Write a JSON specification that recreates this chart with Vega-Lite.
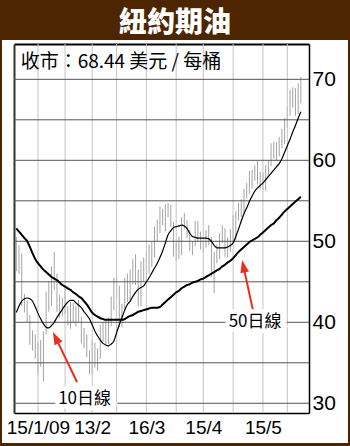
{
  "$schema": "https://vega.github.io/schema/vega-lite/v6.json",
  "width": 346,
  "height": 403,
  "autosize": "none",
  "padding": {"left": 2, "right": 2, "top": 40, "bottom": 3},
  "background": "#4d2500",
  "title": {"text": "紐約期油", "anchor": "middle", "frame": "group", "color": "white", "fontSize": 28, "font": "Noto Sans CJK TC", "fontWeight": 900, "offset": 2},
  "config": {
    "view": {"fill": "white", "stroke": null},
    "axis": {"labelFont": "Liberation Sans", "labelColor": "black", "domainColor": "black", "ticks": false}
  },
  "datasets": {
    "oil": [
      {"d":"2009-01-05","lo":46.3,"hi":50.5,"m10":41.2,"m50":51.6},
      {"d":"2009-01-06","lo":46.0,"hi":49.5,"m10":42.0,"m50":51.2},
      {"d":"2009-01-07","lo":42.0,"hi":48.5,"m10":42.6,"m50":50.8},
      {"d":"2009-01-08","lo":41.2,"hi":43.5,"m10":42.9,"m50":50.4},
      {"d":"2009-01-09","lo":40.0,"hi":42.7,"m10":43.0,"m50":50.0},
      {"d":"2009-01-12","lo":37.2,"hi":40.9,"m10":42.9,"m50":49.3},
      {"d":"2009-01-13","lo":36.5,"hi":39.0,"m10":42.6,"m50":48.5},
      {"d":"2009-01-14","lo":35.5,"hi":38.5,"m10":41.9,"m50":47.8},
      {"d":"2009-01-15","lo":33.5,"hi":37.5,"m10":41.1,"m50":47.3},
      {"d":"2009-01-16","lo":34.5,"hi":37.8,"m10":40.4,"m50":46.9},
      {"d":"2009-01-20","lo":32.7,"hi":38.9,"m10":39.8,"m50":46.5},
      {"d":"2009-01-21","lo":38.5,"hi":43.8,"m10":39.4,"m50":46.2},
      {"d":"2009-01-22","lo":41.3,"hi":45.0,"m10":39.3,"m50":45.9},
      {"d":"2009-01-23","lo":42.0,"hi":46.9,"m10":39.6,"m50":45.6},
      {"d":"2009-01-26","lo":44.0,"hi":48.7,"m10":40.0,"m50":45.4},
      {"d":"2009-01-27","lo":41.3,"hi":46.0,"m10":40.6,"m50":45.2},
      {"d":"2009-01-28","lo":40.5,"hi":43.4,"m10":41.1,"m50":44.9},
      {"d":"2009-01-29","lo":40.8,"hi":43.0,"m10":41.6,"m50":44.6},
      {"d":"2009-01-30","lo":41.0,"hi":44.4,"m10":42.1,"m50":44.4},
      {"d":"2009-02-02","lo":39.6,"hi":42.0,"m10":42.5,"m50":44.2},
      {"d":"2009-02-03","lo":39.2,"hi":42.5,"m10":42.7,"m50":44.0},
      {"d":"2009-02-04","lo":39.9,"hi":42.4,"m10":42.7,"m50":43.7},
      {"d":"2009-02-05","lo":39.5,"hi":42.0,"m10":42.4,"m50":43.5},
      {"d":"2009-02-06","lo":40.0,"hi":42.8,"m10":42.1,"m50":43.2},
      {"d":"2009-02-09","lo":37.4,"hi":40.7,"m10":41.8,"m50":43.0},
      {"d":"2009-02-10","lo":36.8,"hi":39.3,"m10":41.3,"m50":42.6},
      {"d":"2009-02-11","lo":35.7,"hi":38.5,"m10":40.9,"m50":42.2},
      {"d":"2009-02-12","lo":33.6,"hi":36.5,"m10":40.4,"m50":41.7},
      {"d":"2009-02-13","lo":33.5,"hi":37.8,"m10":39.7,"m50":41.2},
      {"d":"2009-02-17","lo":34.4,"hi":37.5,"m10":38.9,"m50":40.9},
      {"d":"2009-02-18","lo":34.0,"hi":36.8,"m10":38.3,"m50":40.7},
      {"d":"2009-02-19","lo":35.5,"hi":39.7,"m10":37.8,"m50":40.5},
      {"d":"2009-02-20","lo":37.6,"hi":40.0,"m10":37.4,"m50":40.4},
      {"d":"2009-02-23","lo":37.3,"hi":40.3,"m10":37.2,"m50":40.3},
      {"d":"2009-02-24","lo":37.3,"hi":40.6,"m10":37.1,"m50":40.3},
      {"d":"2009-02-25","lo":39.5,"hi":43.2,"m10":37.3,"m50":40.3},
      {"d":"2009-02-26","lo":41.5,"hi":45.5,"m10":37.7,"m50":40.3},
      {"d":"2009-02-27","lo":43.0,"hi":45.5,"m10":38.7,"m50":40.3},
      {"d":"2009-03-02","lo":39.4,"hi":44.5,"m10":39.7,"m50":40.3},
      {"d":"2009-03-03","lo":39.4,"hi":42.3,"m10":40.6,"m50":40.3},
      {"d":"2009-03-04","lo":41.4,"hi":45.5,"m10":41.5,"m50":40.4},
      {"d":"2009-03-05","lo":42.5,"hi":46.0,"m10":42.2,"m50":40.6},
      {"d":"2009-03-06","lo":42.5,"hi":46.5,"m10":42.6,"m50":40.8},
      {"d":"2009-03-09","lo":44.7,"hi":47.8,"m10":43.2,"m50":40.9},
      {"d":"2009-03-10","lo":44.6,"hi":48.4,"m10":43.7,"m50":41.1},
      {"d":"2009-03-11","lo":42.0,"hi":46.5,"m10":44.1,"m50":41.3},
      {"d":"2009-03-12","lo":42.0,"hi":47.5,"m10":44.3,"m50":41.4},
      {"d":"2009-03-13","lo":45.0,"hi":48.0,"m10":44.5,"m50":41.5},
      {"d":"2009-03-16","lo":45.3,"hi":48.6,"m10":45.0,"m50":41.6},
      {"d":"2009-03-17","lo":46.0,"hi":49.6,"m10":45.5,"m50":41.7},
      {"d":"2009-03-18","lo":46.8,"hi":50.0,"m10":46.1,"m50":41.8},
      {"d":"2009-03-19","lo":48.0,"hi":51.8,"m10":46.7,"m50":41.8},
      {"d":"2009-03-20","lo":50.0,"hi":52.7,"m10":47.3,"m50":41.8},
      {"d":"2009-03-23","lo":51.0,"hi":54.3,"m10":48.0,"m50":41.9},
      {"d":"2009-03-24","lo":52.0,"hi":54.0,"m10":48.8,"m50":42.2},
      {"d":"2009-03-25","lo":51.2,"hi":54.6,"m10":49.8,"m50":42.5},
      {"d":"2009-03-26","lo":53.0,"hi":54.7,"m10":50.8,"m50":42.8},
      {"d":"2009-03-27","lo":51.8,"hi":54.5,"m10":51.3,"m50":43.1},
      {"d":"2009-03-30","lo":48.1,"hi":52.4,"m10":51.7,"m50":43.4},
      {"d":"2009-03-31","lo":47.7,"hi":49.9,"m10":51.8,"m50":43.7},
      {"d":"2009-04-01","lo":47.8,"hi":50.6,"m10":51.9,"m50":43.9},
      {"d":"2009-04-02","lo":48.3,"hi":53.0,"m10":52.0,"m50":44.2},
      {"d":"2009-04-03","lo":51.5,"hi":53.5,"m10":51.9,"m50":44.4},
      {"d":"2009-04-06","lo":50.4,"hi":52.6,"m10":51.6,"m50":44.6},
      {"d":"2009-04-07","lo":48.8,"hi":51.4,"m10":51.0,"m50":44.7},
      {"d":"2009-04-08","lo":48.3,"hi":50.0,"m10":50.6,"m50":44.9},
      {"d":"2009-04-09","lo":49.4,"hi":52.5,"m10":50.5,"m50":45.0},
      {"d":"2009-04-13","lo":50.0,"hi":52.5,"m10":50.4,"m50":45.1},
      {"d":"2009-04-14","lo":49.0,"hi":51.2,"m10":50.4,"m50":45.3},
      {"d":"2009-04-15","lo":48.6,"hi":50.2,"m10":50.4,"m50":45.4},
      {"d":"2009-04-16","lo":49.2,"hi":51.4,"m10":50.4,"m50":45.6},
      {"d":"2009-04-17","lo":49.5,"hi":52.0,"m10":50.3,"m50":45.8},
      {"d":"2009-04-20","lo":45.6,"hi":50.5,"m10":50.0,"m50":46.0},
      {"d":"2009-04-21","lo":43.6,"hi":48.7,"m10":49.5,"m50":46.2},
      {"d":"2009-04-22","lo":47.3,"hi":49.6,"m10":49.2,"m50":46.4},
      {"d":"2009-04-23","lo":47.8,"hi":51.0,"m10":49.2,"m50":46.6},
      {"d":"2009-04-24","lo":49.8,"hi":52.0,"m10":49.2,"m50":46.9},
      {"d":"2009-04-27","lo":48.1,"hi":51.6,"m10":49.2,"m50":47.1},
      {"d":"2009-04-28","lo":48.0,"hi":50.5,"m10":49.3,"m50":47.4},
      {"d":"2009-04-29","lo":48.7,"hi":51.5,"m10":49.5,"m50":47.6},
      {"d":"2009-04-30","lo":50.0,"hi":53.2,"m10":49.8,"m50":47.9},
      {"d":"2009-05-01","lo":50.1,"hi":53.7,"m10":50.6,"m50":48.3},
      {"d":"2009-05-04","lo":52.6,"hi":54.7,"m10":51.5,"m50":48.7},
      {"d":"2009-05-05","lo":53.0,"hi":55.2,"m10":52.5,"m50":49.0},
      {"d":"2009-05-06","lo":53.5,"hi":56.5,"m10":53.4,"m50":49.3},
      {"d":"2009-05-07","lo":55.3,"hi":57.2,"m10":54.1,"m50":49.6},
      {"d":"2009-05-08","lo":55.8,"hi":58.7,"m10":54.9,"m50":49.9},
      {"d":"2009-05-11","lo":56.5,"hi":58.8,"m10":55.6,"m50":50.1},
      {"d":"2009-05-12","lo":57.5,"hi":59.4,"m10":56.2,"m50":50.3},
      {"d":"2009-05-13","lo":57.0,"hi":60.0,"m10":56.6,"m50":50.5},
      {"d":"2009-05-14","lo":56.5,"hi":58.6,"m10":56.9,"m50":50.8},
      {"d":"2009-05-15","lo":56.3,"hi":58.5,"m10":57.2,"m50":51.1},
      {"d":"2009-05-18","lo":56.2,"hi":59.4,"m10":57.6,"m50":51.4},
      {"d":"2009-05-19","lo":58.0,"hi":60.0,"m10":58.0,"m50":51.7},
      {"d":"2009-05-20","lo":59.3,"hi":62.1,"m10":58.4,"m50":52.0},
      {"d":"2009-05-21","lo":60.2,"hi":62.3,"m10":58.8,"m50":52.2},
      {"d":"2009-05-22","lo":60.0,"hi":62.2,"m10":59.2,"m50":52.6},
      {"d":"2009-05-26","lo":60.5,"hi":62.9,"m10":59.6,"m50":52.9},
      {"d":"2009-05-27","lo":61.5,"hi":63.9,"m10":60.2,"m50":53.3},
      {"d":"2009-05-28","lo":62.0,"hi":65.2,"m10":61.0,"m50":53.7},
      {"d":"2009-05-29","lo":64.0,"hi":66.6,"m10":61.8,"m50":54.0},
      {"d":"2009-06-01","lo":65.5,"hi":68.7,"m10":62.6,"m50":54.3},
      {"d":"2009-06-02","lo":66.5,"hi":69.0,"m10":63.5,"m50":54.6},
      {"d":"2009-06-03","lo":65.5,"hi":68.9,"m10":64.3,"m50":54.9},
      {"d":"2009-06-04","lo":65.7,"hi":69.5,"m10":65.2,"m50":55.2},
      {"d":"2009-06-05","lo":67.0,"hi":70.3,"m10":66.0,"m50":55.5}
    ],
    "hgrid": [{"p": 30}, {"p": 35}, {"p": 40}, {"p": 45}, {"p": 50}, {"p": 55}, {"p": 60}, {"p": 65}, {"p": 70}],
    "vgrid": [{"s": 9}, {"s": 19}, {"s": 29}, {"s": 38}, {"s": 49}, {"s": 60}, {"s": 70}, {"s": 81}, {"s": 92}, {"s": 101}],
    "arrows": [
      {"s": 23.4, "p": 32.63, "s2": 15.65, "p2": 38.02},
      {"s": 88.3, "p": 41.53, "s2": 84.84, "p2": 46.85}
    ],
    "linelabels": [
      {"t": "10日線", "s": 26.2, "p": 30.5},
      {"t": "50日線", "s": 89.1, "p": 40.0}
    ],
    "closelabel": [
      {"t": "收市：68.44 美元 / 每桶", "s": 2.6, "p": 72.1}
    ]
  },
  "layer": [
    {
      "data": {"name": "oil"},
      "transform": [{"window": [{"op": "row_number", "as": "s"}], "sort": [{"field": "d"}]}],
      "mark": {"type": "rule", "color": "#a3a3a3", "strokeWidth": 1},
      "encoding": {
        "x": {"field": "s", "type": "quantitative",
              "scale": {"domain": [0.15, 109], "range": [12, 307], "nice": false, "zero": false},
              "axis": {"orient": "bottom", "offset": -30, "values": [9, 29, 49, 70, 92],
                       "labelExpr": "datum.value == 9 ? '15/1/09' : datum.value == 29 ? '13/2' : datum.value == 49 ? '16/3' : datum.value == 70 ? '15/4' : '15/5'",
                       "grid": false, "ticks": false, "domainWidth": 1.5, "labelFontSize": 19, "labelPadding": 5,
                       "labelFlush": false, "labelOverlap": false, "title": null}},
        "y": {"field": "lo", "type": "quantitative",
              "scale": {"domain": [28.8, 74.36], "range": [373, 4], "nice": false, "zero": false},
              "axis": {"orient": "right", "offset": -39, "values": [30, 40, 50, 60, 70],
                       "grid": false, "ticks": false, "domainWidth": 1.5, "labelFontSize": 21, "labelPadding": 3,
                       "labelFlush": false, "labelOverlap": false, "title": null}},
        "y2": {"field": "hi"}
      }
    },
    {
      "data": {"name": "vgrid"},
      "mark": {"type": "rule", "color": "#c4c4c4", "strokeWidth": 1},
      "encoding": {
        "x": {"field": "s", "type": "quantitative", "axis": null},
        "y": {"datum": 28.8, "type": "quantitative", "axis": null},
        "y2": {"datum": 74.36}
      }
    },
    {
      "data": {"name": "hgrid"},
      "mark": {"type": "rule", "color": "#555555", "strokeWidth": 1},
      "encoding": {
        "x": {"datum": 0.15, "type": "quantitative", "axis": null},
        "x2": {"datum": 109},
        "y": {"field": "p", "type": "quantitative", "axis": null}
      }
    },
    {
      "data": {"name": "oil"},
      "transform": [{"window": [{"op": "row_number", "as": "s"}], "sort": [{"field": "d"}]}],
      "mark": {"type": "rule", "opacity": 0},
      "encoding": {
        "x": {"field": "s", "type": "quantitative",
              "axis": {"orient": "top", "offset": -4, "labels": false, "ticks": false, "grid": false,
                       "domainWidth": 2, "title": null}},
        "y": {"field": "lo", "type": "quantitative",
              "axis": {"orient": "left", "offset": -12, "labels": false, "ticks": false, "grid": false,
                       "domainWidth": 2, "domainColor": "#333333", "title": null}},
        "y2": {"field": "hi"}
      }
    },
    {
      "data": {"name": "oil"},
      "transform": [{"window": [{"op": "row_number", "as": "s"}], "sort": [{"field": "d"}]}],
      "mark": {"type": "line", "color": "black", "strokeWidth": 2, "interpolate": "monotone"},
      "encoding": {
        "x": {"field": "s", "type": "quantitative", "axis": null},
        "y": {"field": "m50", "type": "quantitative", "axis": null}
      }
    },
    {
      "data": {"name": "oil"},
      "transform": [{"window": [{"op": "row_number", "as": "s"}], "sort": [{"field": "d"}]}],
      "mark": {"type": "line", "color": "black", "strokeWidth": 1.2, "interpolate": "monotone"},
      "encoding": {
        "x": {"field": "s", "type": "quantitative", "axis": null},
        "y": {"field": "m10", "type": "quantitative", "axis": null}
      }
    },
    {
      "data": {"name": "arrows"},
      "mark": {"type": "rule", "color": "#e8301f", "strokeWidth": 2},
      "encoding": {
        "x": {"field": "s", "type": "quantitative", "axis": null},
        "y": {"field": "p", "type": "quantitative", "axis": null},
        "x2": {"field": "s2"},
        "y2": {"field": "p2"}
      }
    },
    {
      "data": {"values": [{"s": 15.65, "p": 38.02}]},
      "mark": {"type": "point", "shape": "M0,-1L0.62,0.8L-0.62,0.8Z", "size": 200, "filled": true, "color": "#e8301f", "opacity": 1, "angle": 334},
      "encoding": {
        "x": {"field": "s", "type": "quantitative", "axis": null},
        "y": {"field": "p", "type": "quantitative", "axis": null}
      }
    },
    {
      "data": {"values": [{"s": 84.84, "p": 46.85}]},
      "mark": {"type": "point", "shape": "M0,-1L0.62,0.8L-0.62,0.8Z", "size": 200, "filled": true, "color": "#e8301f", "opacity": 1, "angle": 348},
      "encoding": {
        "x": {"field": "s", "type": "quantitative", "axis": null},
        "y": {"field": "p", "type": "quantitative", "axis": null}
      }
    },
    {
      "data": {"name": "linelabels"},
      "mark": {"type": "text", "font": "Noto Sans CJK TC", "fontSize": 17, "align": "center", "baseline": "middle", "color": "white", "stroke": "white", "strokeWidth": 9},
      "encoding": {
        "x": {"field": "s", "type": "quantitative", "axis": null},
        "y": {"field": "p", "type": "quantitative", "axis": null},
        "text": {"field": "t"}
      }
    },
    {
      "data": {"name": "linelabels"},
      "mark": {"type": "text", "font": "Noto Sans CJK TC", "fontSize": 17, "align": "center", "baseline": "middle", "color": "black"},
      "encoding": {
        "x": {"field": "s", "type": "quantitative", "axis": null},
        "y": {"field": "p", "type": "quantitative", "axis": null},
        "text": {"field": "t"}
      }
    },
    {
      "data": {"name": "closelabel"},
      "mark": {"type": "text", "font": "Noto Sans CJK TC", "fontSize": 19, "align": "left", "baseline": "middle", "color": "black"},
      "encoding": {
        "x": {"field": "s", "type": "quantitative", "axis": null},
        "y": {"field": "p", "type": "quantitative", "axis": null},
        "text": {"field": "t"}
      }
    }
  ],
  "resolve": {"axis": {"x": "independent", "y": "independent"}}
}
